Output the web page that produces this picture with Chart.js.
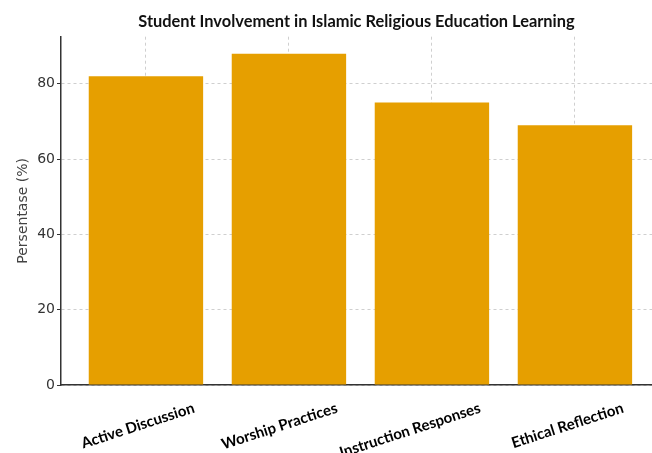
<!DOCTYPE html>
<html>
<head>
<meta charset="utf-8">
<title>Student Involvement</title>
<script src="https://cdn.jsdelivr.net/npm/chart.js@4"></script>
<style>
    html, body { margin: 0; padding: 0; background: #fff; overflow: hidden; }
    canvas { display: block; }
</style>
</head>
<body>
<canvas id="involvementChart" width="652" height="453"></canvas>
<script>
const categories = ['Active Discussion', 'Worship Practices', 'Instruction Responses', 'Ethical Reflection'];
const percentages = [82, 88, 75, 69];
const yTickValues = [0, 20, 40, 60, 80];
const chartTitle = 'Student Involvement in Islamic Religious Education Learning';
const yAxisTitle = 'Persentase (%)';

const barColor = '#E69F00';
const axisColor = '#333333';
const gridColor = '#cfcfcf';

const chartContext = document.getElementById('involvementChart');

new Chart(chartContext, {
    type: 'bar',
    data: {
        datasets: [
            {
                data: percentages.map((value, index) => ({ x: index, y: value })),
                backgroundColor: barColor,
                borderWidth: 0,
                categoryPercentage: 0.8,
                barPercentage: 1
            }
        ]
    },
    options: {
        responsive: false,
        animation: false,
        devicePixelRatio: 1,
        layout: {
            padding: { left: 0, right: 0, top: 0, bottom: 0 }
        },
        plugins: {
            legend: { display: false },
            tooltip: { enabled: false },
            title: {
                display: true,
                fullSize: false,
                text: chartTitle,
                color: '#111',
                font: { family: 'Lato', size: 16.4, weight: 'bold', lineHeight: 1.2 },
                padding: { top: 12, bottom: 5 }
            }
        },
        scales: {
            x: {
                type: 'linear',
                offset: false,
                min: -0.594,
                max: 3.539,
                z: 1,
                afterBuildTicks: (scale) => {
                    scale.ticks = categories.map((name, index) => ({ value: index }));
                },
                afterFit: (scale) => {
                    scale.height = 68;
                },
                ticks: {
                    autoSkip: false,
                    minRotation: 18,
                    maxRotation: 18,
                    labelOffset: 48,
                    padding: 14,
                    color: '#000',
                    font: { family: 'Lato', size: 15, weight: 'bold' },
                    callback: (value) => categories[value]
                },
                grid: {
                    offset: false,
                    color: gridColor,
                    lineWidth: 1,
                    drawTicks: false
                },
                border: {
                    color: axisColor,
                    width: 1.5,
                    dash: [3, 3]
                }
            },
            y: {
                min: 0,
                max: 92.5,
                z: 1,
                afterBuildTicks: (scale) => {
                    scale.ticks = yTickValues.map((value) => ({ value }));
                },
                afterFit: (scale) => {
                    scale.width = 61;
                },
                ticks: {
                    padding: 2,
                    color: axisColor,
                    font: { family: 'DejaVu Sans', size: 14 }
                },
                title: {
                    display: true,
                    text: yAxisTitle,
                    color: '#444',
                    font: { family: 'DejaVu Sans', size: 14 },
                    padding: { top: 15, bottom: 0 }
                },
                grid: {
                    color: gridColor,
                    lineWidth: 1,
                    drawTicks: true,
                    tickLength: 4,
                    tickColor: axisColor,
                    tickBorderDash: []
                },
                border: {
                    color: axisColor,
                    width: 1.5,
                    dash: [3, 3]
                }
            }
        }
    }
});
</script>
</body>
</html>
